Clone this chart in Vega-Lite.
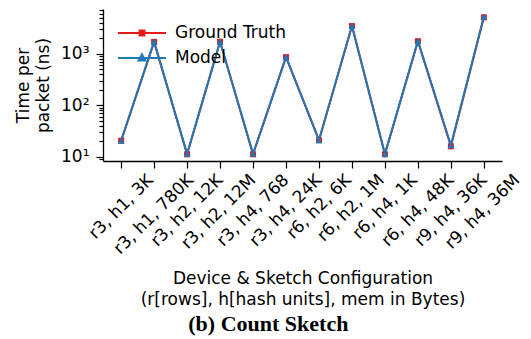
{
  "$schema": "https://vega.github.io/schema/vega-lite/v6.json",
  "width": 531,
  "height": 339,
  "autosize": {"type": "fit", "contains": "padding"},
  "padding": {"left": 14, "top": 2, "right": 14, "bottom": 4},
  "background": "white",
  "config": {
    "view": {"stroke": null},
    "font": "DejaVu Sans",
    "axis": {"domainColor": "black", "tickColor": "black", "labelColor": "black", "titleColor": "black", "grid": false, "domainWidth": 1.3, "tickWidth": 1.2}
  },
  "title": {"text": "(b) Count Sketch", "orient": "bottom", "anchor": "middle", "frame": "bounds", "font": "Liberation Serif", "fontSize": 22, "fontWeight": "bold", "color": "black", "offset": 6},
  "data": {
    "values": [
      {"config": "r3, h1, 3K", "series": "Ground Truth", "value": 20.5},
      {"config": "r3, h1, 780K", "series": "Ground Truth", "value": 1700},
      {"config": "r3, h2, 12K", "series": "Ground Truth", "value": 11.2},
      {"config": "r3, h2, 12M", "series": "Ground Truth", "value": 1710},
      {"config": "r3, h4, 768", "series": "Ground Truth", "value": 11.2},
      {"config": "r3, h4, 24K", "series": "Ground Truth", "value": 860},
      {"config": "r6, h2, 6K", "series": "Ground Truth", "value": 21},
      {"config": "r6, h2, 1M", "series": "Ground Truth", "value": 3450},
      {"config": "r6, h4, 1K", "series": "Ground Truth", "value": 11.2},
      {"config": "r6, h4, 48K", "series": "Ground Truth", "value": 1750},
      {"config": "r9, h4, 36K", "series": "Ground Truth", "value": 16},
      {"config": "r9, h4, 36M", "series": "Ground Truth", "value": 5100},
      {"config": "r3, h1, 3K", "series": "Model", "value": 20.5},
      {"config": "r3, h1, 780K", "series": "Model", "value": 1720},
      {"config": "r3, h2, 12K", "series": "Model", "value": 11.4},
      {"config": "r3, h2, 12M", "series": "Model", "value": 1730},
      {"config": "r3, h4, 768", "series": "Model", "value": 11.4},
      {"config": "r3, h4, 24K", "series": "Model", "value": 870},
      {"config": "r6, h2, 6K", "series": "Model", "value": 21},
      {"config": "r6, h2, 1M", "series": "Model", "value": 3500},
      {"config": "r6, h4, 1K", "series": "Model", "value": 11.4},
      {"config": "r6, h4, 48K", "series": "Model", "value": 1770},
      {"config": "r9, h4, 36K", "series": "Model", "value": 16.8},
      {"config": "r9, h4, 36M", "series": "Model", "value": 5300}
    ]
  },
  "encoding": {
    "x": {
      "field": "config", "type": "nominal", "sort": null,
      "scale": {"type": "point", "padding": 0.55},
      "axis": {
        "title": ["Device & Sketch Configuration", "(r[rows], h[hash units], mem in Bytes)"],
        "titleFontSize": 17, "titleFontWeight": "normal", "titleLineHeight": 21, "titlePadding": 14,
        "labelAngle": -45, "labelFontSize": 17, "labelAlign": "right", "labelBaseline": "middle",
        "labelOverlap": false, "labelBound": false,
        "tickSize": 7, "labelPadding": 9,
        "labelOffset": {"expr": "(21.6 + (length(datum.label) - 4) * 10.1) / 2.83"}
      }
    },
    "y": {
      "field": "value", "type": "quantitative",
      "scale": {"type": "log", "domain": [8.3, 7400], "nice": false},
      "axis": {
        "title": ["Time per", "packet (ns)"],
        "titleFontSize": 17, "titleFontWeight": "normal", "titleLineHeight": 20, "titlePadding": 8,
        "values": [9, 10, 20, 30, 40, 50, 60, 70, 80, 90, 100, 200, 300, 400, 500, 600, 700, 800, 900, 1000, 2000, 3000, 4000, 5000, 6000, 7000],
        "labelExpr": "datum.value == 10 ? '10¹' : datum.value == 100 ? '10²' : datum.value == 1000 ? '10³' : ''",
        "labelFontSize": 17, "labelPadding": 7, "labelOverlap": false,
        "tickSize": {"condition": {"test": "datum.value == 10 || datum.value == 100 || datum.value == 1000", "value": 7}, "value": 4}
      }
    },
    "color": {
      "field": "series", "type": "nominal",
      "scale": {"domain": ["Ground Truth", "Model"], "range": ["#e41a1c", "#1f77b4"]},
      "legend": {
        "title": null, "orient": "top-left", "offset": 14, "padding": 0,
        "labelFontSize": 17, "labelColor": "black", "labelOffset": 8,
        "symbolSize": 2304, "symbolStrokeWidth": 2, "clipHeight": 20, "rowPadding": 5,
        "encode": {
          "symbols": {
            "update": {
              "shape": {"signal": "datum.value == 'Model' ? 'M-1,0H1M0,-0.15L0.14,0.1H-0.14Z' : 'M-1,0H1M-0.1,-0.1H0.1V0.1H-0.1Z'"},
              "strokeWidth": {"value": 2},
              "opacity": {"value": 1}
            }
          }
        }
      }
    }
  },
  "layer": [
    {"transform": [{"filter": "datum.series == 'Ground Truth'"}], "mark": {"type": "line", "strokeWidth": 2}},
    {"transform": [{"filter": "datum.series == 'Ground Truth'"}], "mark": {"type": "point", "filled": true, "opacity": 1, "shape": "square", "size": 36}},
    {"transform": [{"filter": "datum.series == 'Model'"}], "mark": {"type": "line", "strokeWidth": 2}},
    {"transform": [{"filter": "datum.series == 'Model'"}], "mark": {"type": "point", "filled": true, "opacity": 1, "shape": "triangle-up", "size": 45}}
  ]
}
